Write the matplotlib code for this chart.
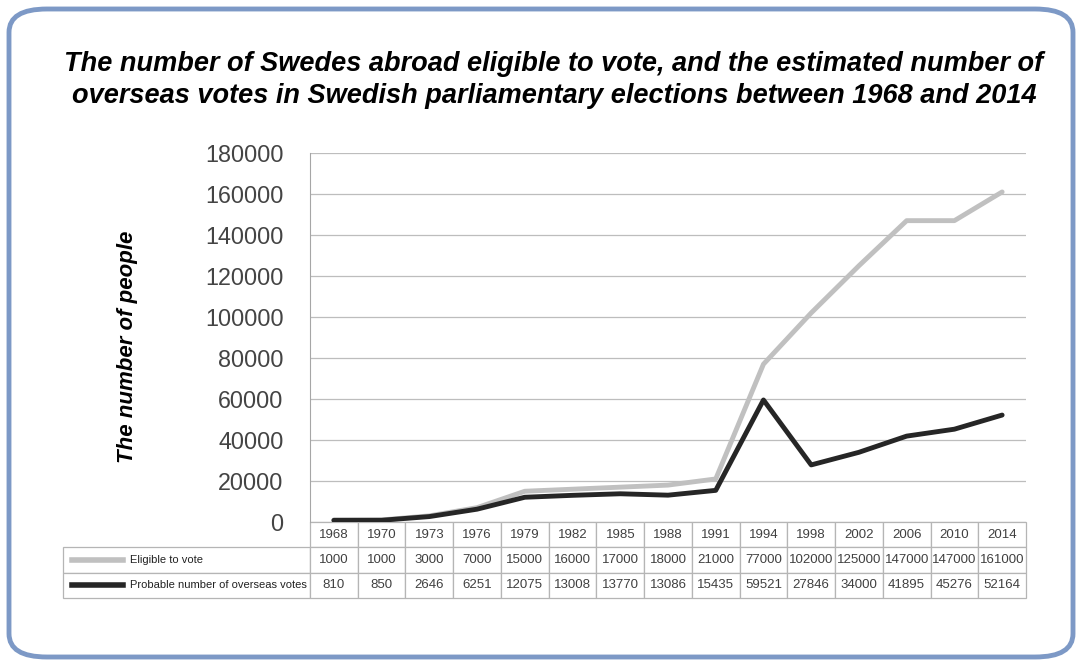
import matplotlib.pyplot as plt
from matplotlib.patches import FancyBboxPatch
from matplotlib.lines import Line2D

plt.rcParams['font.family'] = ['Liberation Sans', 'DejaVu Sans']

years = ["1968", "1970", "1973", "1976", "1979", "1982", "1985", "1988",
         "1991", "1994", "1998", "2002", "2006", "2010", "2014"]
eligible = [1000, 1000, 3000, 7000, 15000, 16000, 17000, 18000,
            21000, 77000, 102000, 125000, 147000, 147000, 161000]
votes = [810, 850, 2646, 6251, 12075, 13008, 13770, 13086,
         15435, 59521, 27846, 34000, 41895, 45276, 52164]
series_names = ["Eligible to vote", "Probable number of overseas votes"]
series_colors = ["#c0c0c0", "#262626"]

W, H = 1082, 666
fig = plt.figure(figsize=(W / 100, H / 100), dpi=100)

# rounded frame around everything
frame = FancyBboxPatch((9 / W, 9 / H), 1 - 18 / W, 1 - 18 / H,
                       boxstyle="round,pad=0,rounding_size=0.035",
                       transform=fig.transFigure, facecolor="none",
                       edgecolor="#7d99c6", linewidth=3.5, zorder=0)
fig.patches.append(frame)

fig.text(0.512, 0.880,
         "The number of Swedes abroad eligible to vote, and the estimated number of\n"
         "overseas votes in Swedish parliamentary elections between 1968 and 2014",
         ha="center", va="center", fontsize=19.5, fontweight="bold",
         fontstyle="italic", linespacing=1.27)

left, right, bottom, top = 310, 1026, 522, 153
ax = fig.add_axes([left / W, 1 - bottom / H, (right - left) / W, (bottom - top) / H])
ax.set_facecolor("none")

x = list(range(len(years)))
ax.plot(x, eligible, color=series_colors[0], lw=3.5, solid_capstyle="round", zorder=3)
ax.plot(x, votes, color=series_colors[1], lw=3.5, solid_capstyle="round", zorder=4)

ax.set_xlim(-0.5, len(years) - 0.5)
ax.set_ylim(0, 180000)
ax.set_yticks(range(0, 180001, 20000))
ax.set_yticklabels([str(v) for v in range(0, 180001, 20000)], fontsize=16.8, color="#444444")
ax.set_xticks([])
ax.tick_params(axis="y", length=0, pad=19)
ax.grid(axis="y", color="#bdbdbd", lw=0.9)
for s in ["top", "right", "bottom"]:
    ax.spines[s].set_visible(False)
ax.spines["left"].set_color("#a6a6a6")
ax.set_ylabel("The number of people", fontsize=16, fontweight="bold",
              fontstyle="italic")
ax.yaxis.set_label_coords(-0.240, 0.474)

# data table below the plot
aw = right - left
label_w = left - 63
cell_text = [[""] + years,
             [""] + [str(v) for v in eligible],
             [""] + [str(v) for v in votes]]
col_w = [label_w] + [aw / len(years)] * len(years)
tot = sum(col_w)
tbl = ax.table(cellText=cell_text, colWidths=[c / tot for c in col_w],
               cellLoc="center",
               bbox=[-label_w / aw, -76 / (bottom - top), tot / aw, 76 / (bottom - top)])
tbl.auto_set_font_size(False)
for (r, c), cell in tbl.get_celld().items():
    cell.set_edgecolor("#b5b5b5")
    cell.set_linewidth(0.9)
    cell.get_text().set_fontsize(9.5)
    cell.get_text().set_color("#404040")
    if r == 0 and c == 0:
        cell.visible_edges = ""

row_h = 76 / 3
for i, name in enumerate(series_names):
    yc = -(row_h * (i + 1.5)) / (bottom - top)
    ax.add_line(Line2D([(72 - left) / aw, (123 - left) / aw], [yc, yc],
                       transform=ax.transAxes, color=series_colors[i], lw=4,
                       clip_on=False))
    ax.text((130 - left) / aw, yc, name, transform=ax.transAxes, fontsize=8,
            va="center", ha="left", color="#222222")

fig.savefig("out.png", dpi=100)
